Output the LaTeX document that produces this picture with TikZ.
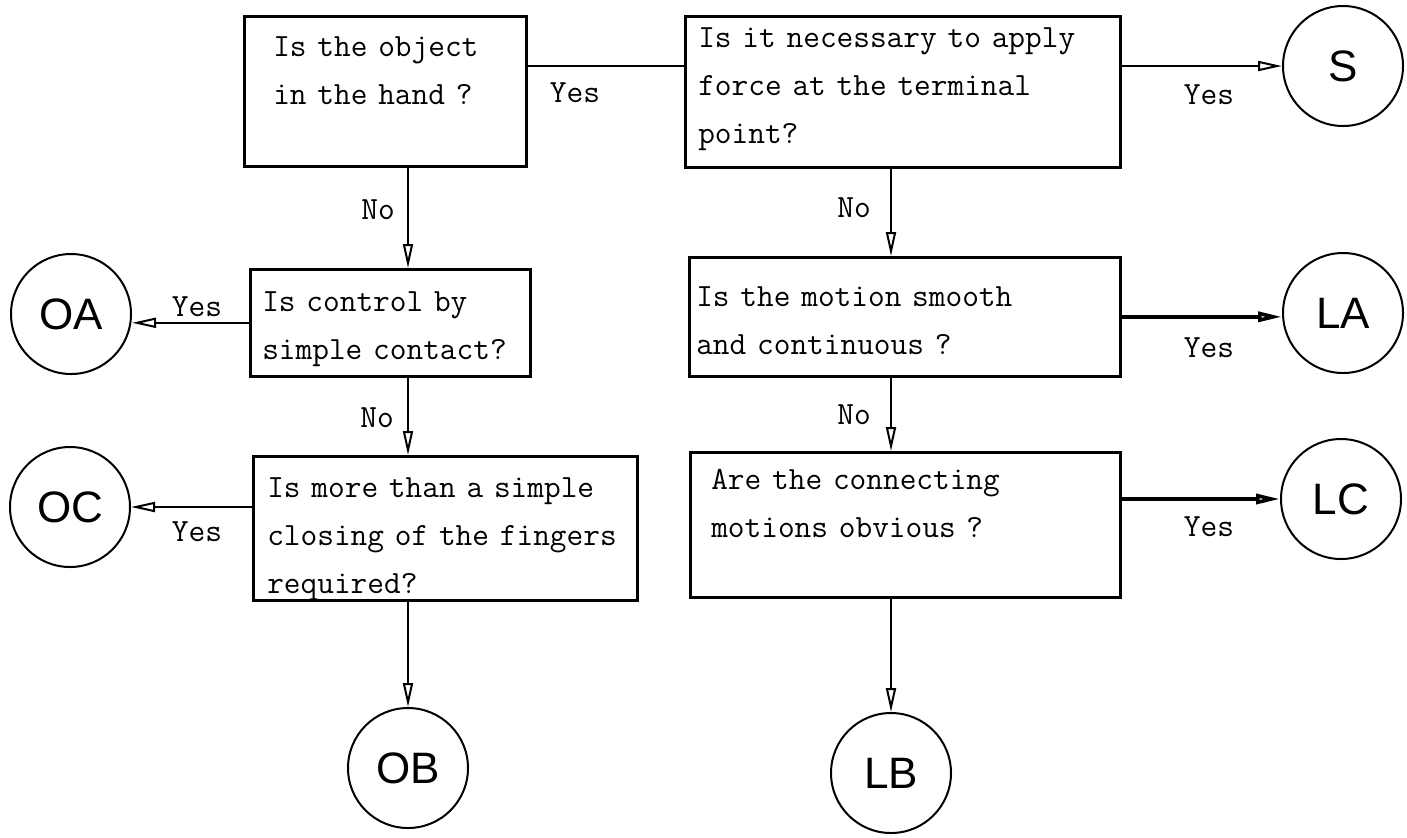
\documentclass[tikz,border=0pt]{standalone}
\usepackage{fontspec}
\newfontfamily\circfont{Liberation Sans}
\usetikzlibrary{arrows.meta}

\begin{document}
\begin{tikzpicture}
[%%%%%%%%%%%%%%%%%%%%%%%%%%%%%%
x=0.5pt, y=-0.5pt,
qbox/.style={rectangle,draw=black,line width=1.3pt,anchor=north west,align=left,inner ysep=0pt,font=\ttfamily\fontsize{16.2}{24}\selectfont},
term/.style={circle,draw=black,line width=1pt,minimum size=60pt,inner sep=0pt,font=\circfont\fontsize{22}{22}\selectfont},
lbl/.style={inner sep=0pt,font=\ttfamily\fontsize{16.2}{16}\selectfont},
arr/.style={line width=1pt,-{Triangle[open,length=12pt,width=5pt]}},
]%%%%%%%%%%%%%%%%%%%%%%%%%%%%%%
\useasboundingbox (0,0) rectangle (1407,837);

% question boxes
\node[qbox,text width=112pt,inner xsep=14.5pt,text height=20pt,text depth=55pt] (hand) at (243,15)
  {Is the object\\in the hand ?};
\node[qbox,text width=204.5pt,inner xsep=6.5pt,text height=15.5pt,text depth=60pt] (force) at (684,15)
  {Is it necessary to apply\\force at the terminal\\point?};
\node[qbox,text width=128pt,inner xsep=6pt,text height=21pt,text depth=32.5pt] (contact) at (249,268)
  {Is control by\\simple contact?};
\node[qbox,text width=208.5pt,inner xsep=3.5pt,text height=24.5pt,text depth=35pt] (smooth) at (688,256)
  {Is the motion smooth\\and continuous ?};
\node[qbox,text width=178pt,inner xsep=7pt,text height=20.5pt,text depth=51.5pt] (fingers) at (252,455)
  {Is more than a simple\\closing of the fingers\\required?};
\node[qbox,text width=194pt,inner xsep=10.5pt,text height=18.5pt,text depth=54pt] (obvious) at (689,451)
  {Are the connecting\\motions obvious ?};

% terminal circles
\node[term] (S) at (1343,66) {S};
\node[term] (LA) at (1343,313) {LA};
\node[term] (LC) at (1341,499) {LC};
\node[term] (OA) at (71,314) {OA};
\node[term] (OC) at (70,507) {OC};
\node[term] (OB) at (408,768) {OB};
\node[term] (LB) at (891,773) {LB};

% connectors
\draw[line width=1pt] (hand.east |- S) -- (force.west |- S);
\draw[arr] (force.east |- S) -- (S);
\draw[arr] (hand.south -| OB) -- (contact.north -| OB);
\draw[arr] (contact.south -| OB) -- (fingers.north -| OB);
\draw[arr] (fingers.south -| OB) -- (OB);
\draw[arr] (force.south -| LB) -- (smooth.north -| LB);
\draw[arr] (smooth.south -| LB) -- (obvious.north -| LB);
\draw[arr] (obvious.south -| LB) -- (LB);
\draw[arr] (contact.west) -- (contact.west -| OA.east);
\draw[arr,line width=1.8pt] (smooth.east) -- (smooth.east -| LA.west);
\draw[arr] (fingers.west |- OC) -- (OC);
\draw[arr,line width=1.8pt] (obvious.east |- LC) -- (LC);

% answers
\node[lbl] (yes-hand) at (575,93) {Yes};
\node[lbl] (yes-S) at (1209,95) {Yes};
\node[lbl] (no-hand) at (378,210) {No};
\node[lbl] (no-force) at (854,208) {No};
\node[lbl] (yes-OA) at (197,307) {Yes};
\node[lbl] (yes-LA) at (1209,348) {Yes};
\node[lbl] (no-contact) at (377,418) {No};
\node[lbl] (no-smooth) at (854,415) {No};
\node[lbl] (yes-OC) at (197,532) {Yes};
\node[lbl] (yes-LC) at (1209,527) {Yes};
\end{tikzpicture}
\end{document}
